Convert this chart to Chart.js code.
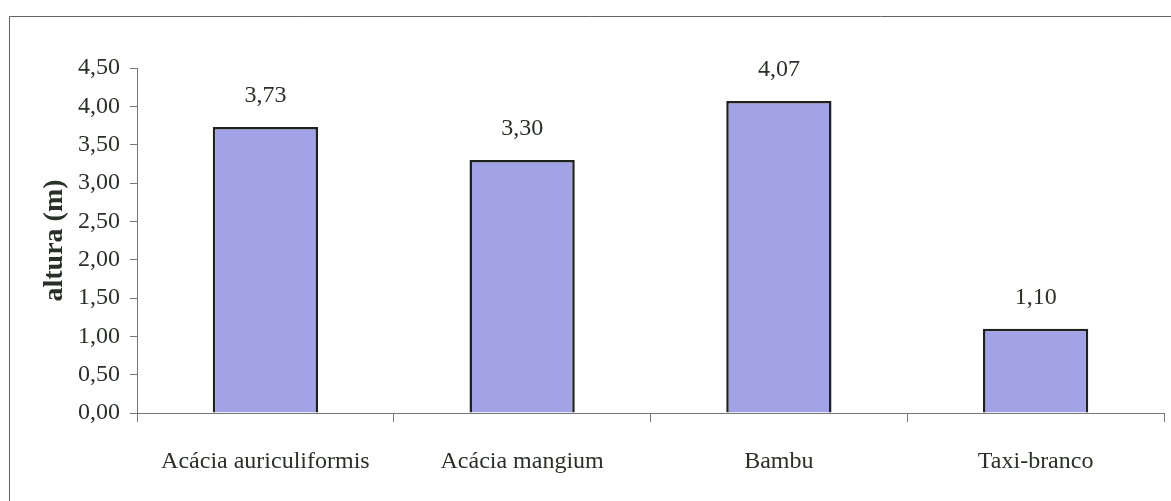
<!DOCTYPE html>
<html>
<head>
<meta charset="utf-8">
<title>altura (m)</title>
<script src="https://cdn.jsdelivr.net/npm/chart.js@4/dist/chart.umd.min.js"></script>
<style>
  body { margin: 0; background: #fff; }
  #caixa { position: relative; width: 1171px; height: 501px; }
</style>
</head>
<body>
<div id="caixa"><canvas id="grafico"></canvas></div>
<script>
// Dados do gráfico
let especies = ['Acácia auriculiformis', 'Acácia mangium', 'Bambu', 'Taxi-branco'];
let alturas = [3.73, 3.30, 4.07, 1.10];
let marcasY = [0, 0.5, 1, 1.5, 2, 2.5, 3, 3.5, 4, 4.5];

const corTexto = '#283028';
const corEixo = '#777777';
const fonteSerif = "'Liberation Serif', 'Times New Roman', serif";

// número no formato brasileiro: 3,73
function formatar(v) {
    return v.toFixed(2).replace('.', ',');
}

// moldura em volta do gráfico (só topo e esquerda aparecem)
const moldura = {
    id: 'moldura',
    beforeDraw(chart) {
        const ctx = chart.ctx;
        ctx.save();
        ctx.strokeStyle = '#5f665f';
        ctx.lineWidth = 1;
        ctx.beginPath();
        ctx.moveTo(9.5, 501);
        ctx.lineTo(9.5, 16.5);
        ctx.lineTo(1171, 16.5);
        ctx.stroke();
        ctx.restore();
    }
};

// rótulos de valor em cima de cada barra
const rotulos = {
    id: 'rotulos',
    afterDatasetsDraw(chart) {
        const ctx = chart.ctx;
        const meta = chart.getDatasetMeta(0);
        ctx.save();
        ctx.font = '24px ' + fonteSerif;
        ctx.fillStyle = corTexto;
        ctx.textAlign = 'center';
        ctx.textBaseline = 'middle';
        meta.data.forEach((barra, i) => {
            ctx.fillText(formatar(alturas[i]), barra.x, barra.y - 31);
        });
        ctx.restore();
    }
};

const ctx = document.getElementById('grafico').getContext('2d');
new Chart(ctx, {
    type: 'bar',
    data: {
        labels: especies,
        datasets: [{
            data: alturas,
            backgroundColor: '#a2a2e6',
            borderColor: '#1e221e',
            borderWidth: 2.5,
            barPercentage: 0.41,
            categoryPercentage: 1
        }]
    },
    options: {
        responsive: true,
        maintainAspectRatio: false,
        animation: false,
        layout: { padding: { top: 68, right: 7, left: 0, bottom: 0 } },
        plugins: {
            legend: { display: false },
            tooltip: { enabled: false }
        },
        scales: {
            x: {
                grid: {
                    display: true,
                    drawOnChartArea: false,
                    offset: true,
                    tickLength: 9,
                    color: corEixo
                },
                border: { color: corEixo, width: 1 },
                ticks: {
                    color: corTexto,
                    font: { family: fonteSerif, size: 24 },
                    padding: 25,
                    maxRotation: 0
                },
                afterFit: (escala) => { escala.height = 88; }
            },
            y: {
                min: 0,
                max: 4.5,
                afterBuildTicks: (escala) => {
                    escala.ticks = marcasY.map(v => ({ value: v }));
                },
                grid: {
                    display: true,
                    drawOnChartArea: false,
                    tickLength: 7,
                    color: corEixo
                },
                border: { color: corEixo, width: 1 },
                ticks: {
                    color: corTexto,
                    font: { family: fonteSerif, size: 24 },
                    padding: 10,
                    callback: (v) => formatar(v)
                },
                title: {
                    display: true,
                    text: 'altura (m)',
                    color: corTexto,
                    font: { family: fonteSerif, size: 28, weight: 'bold' },
                    padding: { top: 38, bottom: 0 }
                },
                afterFit: (escala) => { escala.width = 137; }
            }
        }
    },
    plugins: [moldura, rotulos]
});
</script>
</body>
</html>
